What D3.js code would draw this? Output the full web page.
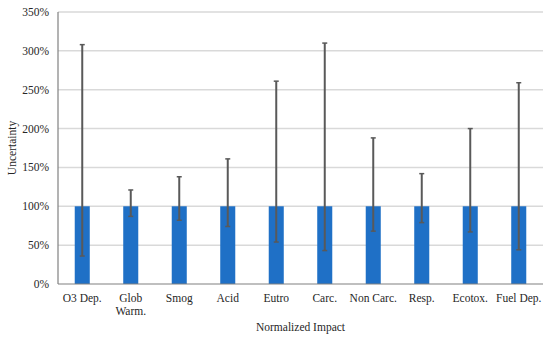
<!DOCTYPE html>
<html>
<head>
<meta charset="UTF-8">
<title>Uncertainty by normalized impact</title>
<script src="https://d3js.org/d3.v7.min.js"></script>
<style>
  body { margin: 0; background: #fff; }
</style>
</head>
<body>
<script>
// categories and values (fractions, 1 = 100%)
const categories = ["O3 Dep.", "Glob\nWarm.", "Smog", "Acid", "Eutro", "Carc.", "Non Carc.", "Resp.", "Ecotox.", "Fuel Dep."];
const values = [1, 1, 1, 1, 1, 1, 1, 1, 1, 1];
const upper = [3.08, 1.21, 1.38, 1.61, 2.61, 3.10, 1.88, 1.42, 2.00, 2.59];
const lower = [0.36, 0.87, 0.82, 0.74, 0.54, 0.43, 0.68, 0.79, 0.67, 0.44];
const yTicks = [0, 0.5, 1, 1.5, 2, 2.5, 3, 3.5];

const W = 550, H = 341;
const m = { top: 12, right: 7, bottom: 57, left: 58 };
const FONT = "'Liberation Serif', 'Times New Roman', serif";

const svg = d3.select("body").append("svg").attr("width", W).attr("height", H)
  .attr("font-family", FONT).attr("font-size", 11.5).attr("fill", "#262626");

const x = d3.scaleBand().domain(categories).range([m.left, W - m.right]).paddingInner(0.69).paddingOuter(0.345);
const y = d3.scaleLinear().domain([0, 3.5]).range([H - m.bottom, m.top]);

// gridlines
svg.append("g")
  .selectAll("line").data(yTicks.filter(d => d > 0)).join("line")
  .attr("x1", m.left).attr("x2", W - m.right)
  .attr("y1", d => y(d)).attr("y2", d => y(d))
  .attr("stroke", "#d9d9d9").attr("stroke-width", 1.5);

// y tick labels
svg.append("g")
  .selectAll("text").data(yTicks).join("text")
  .attr("x", m.left - 9).attr("y", d => y(d)).attr("dy", "0.35em")
  .attr("text-anchor", "end")
  .text(d => d3.format(".0%")(d));

// bars
svg.append("g")
  .selectAll("rect").data(categories).join("rect")
  .attr("x", d => x(d)).attr("width", x.bandwidth())
  .attr("y", (d, i) => y(values[i])).attr("height", (d, i) => y(0) - y(values[i]))
  .attr("fill", "#1f70c6");

// error bars
const eb = svg.append("g").attr("stroke", "#595959");
categories.forEach((c, i) => {
  const cx = x(c) + x.bandwidth() / 2;
  eb.append("line").attr("x1", cx).attr("x2", cx).attr("y1", y(upper[i])).attr("y2", y(lower[i])).attr("stroke-width", 2);
  eb.append("line").attr("x1", cx - 2.5).attr("x2", cx + 2.5).attr("y1", y(upper[i])).attr("y2", y(upper[i])).attr("stroke-width", 1.5);
  eb.append("line").attr("x1", cx - 2.5).attr("x2", cx + 2.5).attr("y1", y(lower[i])).attr("y2", y(lower[i])).attr("stroke-width", 1.5);
});

// axis lines
svg.append("line").attr("x1", m.left).attr("x2", m.left).attr("y1", m.top).attr("y2", y(0))
  .attr("stroke", "#808080").attr("stroke-width", 1.2);
svg.append("line").attr("x1", m.left).attr("x2", W - m.right).attr("y1", y(0)).attr("y2", y(0))
  .attr("stroke", "#808080").attr("stroke-width", 1.2);

// category labels, one text element per line
const lines = [];
categories.forEach(c => c.split("\n").forEach((t, k) => lines.push({ c, t, k })));
svg.append("g").selectAll("text").data(lines).join("text")
  .attr("x", d => x(d.c) + x.bandwidth() / 2).attr("y", d => y(0) + 18 + d.k * 12.5)
  .attr("text-anchor", "middle")
  .text(d => d.t);

// axis titles
svg.append("text").attr("x", (m.left + W - m.right) / 2).attr("y", 331)
  .attr("text-anchor", "middle").text("Normalized Impact");
svg.append("text").attr("transform", `translate(16,${(m.top + y(0)) / 2}) rotate(-90)`)
  .attr("text-anchor", "middle").text("Uncertainty");
</script>
</body>
</html>
